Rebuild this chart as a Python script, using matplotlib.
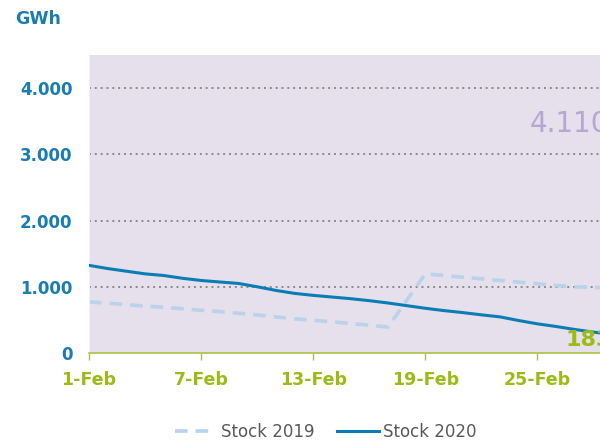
import matplotlib.pyplot as plt
from matplotlib.ticker import FuncFormatter

# daily gas storage stock, February (GWh)
days = list(range(1, 30))
stock_2019 = [770, 752, 730, 708, 690, 668, 645, 625, 600, 575,
              545, 515, 495, 470, 445, 420, 392, 793, 1195, 1170,
              1145, 1120, 1095, 1070, 1045, 1020, 1000, 990, 985]
stock_2020 = [1323, 1275, 1235, 1195, 1170, 1128, 1095, 1072, 1050, 1000,
              945, 900, 870, 845, 820, 790, 755, 715, 675, 640,
              610, 576, 545, 490, 440, 400, 355, 315, 280]
tick_days = [1, 7, 13, 19, 25]
tick_labels = ['1-Feb', '7-Feb', '13-Feb', '19-Feb', '25-Feb']
capacity_label = '4.110'
current_label = '183'

blue = '#0a7db4'
light_blue = '#b9d3ea'
green = '#9bbb15'
lilac = '#b6a6d2'

fig = plt.figure(figsize=(6, 4.42), dpi=100)
ax = fig.add_axes([0.1483, 0.2014, 0.872, 0.6742])
ax.set_facecolor('#e5e0ec')

for v in [1000, 2000, 3000, 4000]:
    ax.axhline(v, color='#8a8a8a', lw=1.4, ls=(0, (1, 2)), zorder=1)

l19, = ax.plot(days, stock_2019, color=light_blue, lw=2.6, ls=(0, (3.5, 2.2)),
               label='Stock 2019', zorder=2)
l20, = ax.plot(days, stock_2020, color=blue, lw=2.2, label='Stock 2020', zorder=3)

ax.set_xlim(1, 29)
ax.set_ylim(0, 4500)
ax.set_yticks([0, 1000, 2000, 3000, 4000])
ax.yaxis.set_major_formatter(FuncFormatter(lambda v, p: f'{int(v):,}'.replace(',', '.')))
ax.set_xticks(tick_days)
ax.set_xticklabels(tick_labels)

ax.tick_params(axis='y', length=0, pad=12, labelsize=12, labelcolor='#1a7db2')
ax.tick_params(axis='x', length=5, width=1, color='#a8c545', pad=8,
               labelsize=12.5, labelcolor=green)
for lab in ax.get_xticklabels() + ax.get_yticklabels():
    lab.set_fontweight('bold')

for s in ['top', 'right']:
    ax.spines[s].set_visible(False)
ax.spines['left'].set_color('#f0f0f0')
ax.spines['bottom'].set_color('#a8c545')
ax.spines['bottom'].set_linewidth(1.2)

fig.text(0.025, 0.958, 'GWh', color='#1a7db2', fontsize=12.5, fontweight='bold',
         va='center', ha='left')
fig.text(0.882, 0.72, capacity_label, color=lilac, fontsize=20, va='center', ha='left')
fig.text(0.943, 0.23, current_label, color=green, fontsize=16, fontweight='bold',
         va='center', ha='left')

fig.legend(handles=[l19, l20], loc='center', bbox_to_anchor=(0.543, 0.022), ncol=2,
           frameon=False, fontsize=12, handlelength=2.5, columnspacing=1.4,
           handletextpad=0.25, labelcolor='#595959')

fig.savefig('out.png', dpi=100)
